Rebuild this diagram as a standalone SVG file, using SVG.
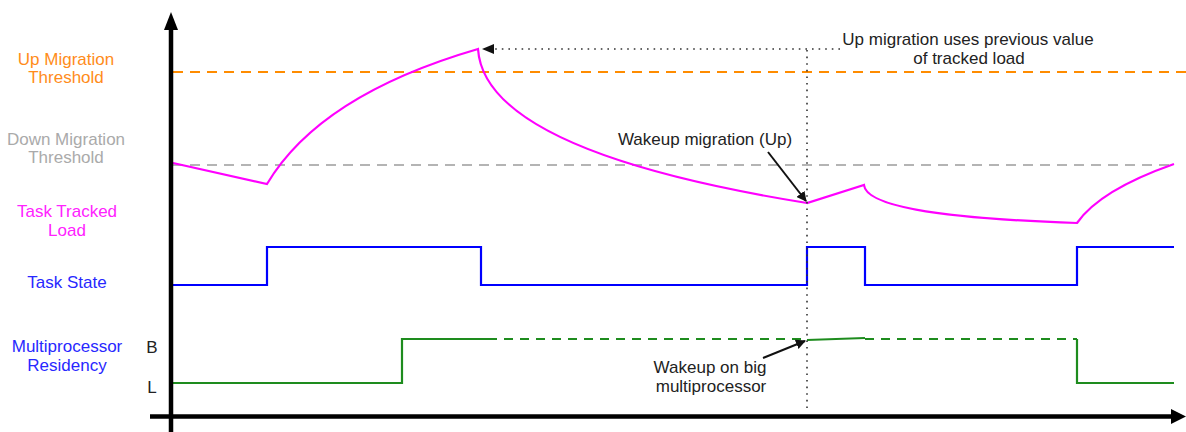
<svg xmlns="http://www.w3.org/2000/svg" width="1186" height="432" viewBox="0 0 1186 432">
<defs>
<style>
text{font-family:"Liberation Sans",Arial,sans-serif;font-size:17px;text-anchor:middle}
.lbl{fill:#222}
.sig{fill:none;stroke-width:2.2;stroke-linejoin:miter}
.mag{stroke:#FF00FF}
.blu{stroke:#0000FF}
.grn{stroke:#1E8C1E}
.dot{fill:none;stroke:#333;stroke-width:1.6;stroke-dasharray:1.6 5}
.ptr{fill:none;stroke:#111;stroke-width:2}
</style>
<marker id="ah" viewBox="0 0 10 10" refX="9" refY="5" markerWidth="10" markerHeight="10" markerUnits="userSpaceOnUse" orient="auto">
<path d="M0,0 L10,5 L0,10 z" fill="#111"/>
</marker>
<marker id="ahs" viewBox="0 0 10 10" refX="9" refY="5" markerWidth="6" markerHeight="6" orient="auto">
<path d="M0,0 L10,5 L0,10 z" fill="#111"/>
</marker>
</defs>
<rect width="1186" height="432" fill="#fff"/>

<g id="thresholds">
<line x1="173" y1="72" x2="1186" y2="72" stroke="#FF8C00" stroke-width="2.2" stroke-dasharray="10 7"/>
<line x1="173" y1="165" x2="1174" y2="165" stroke="#B4B4B4" stroke-width="2.2" stroke-dasharray="10 7"/>
</g>

<g id="labels">
<text x="66" y="65" fill="#FF8C1A">Up Migration</text>
<text x="66" y="83" fill="#FF8C1A">Threshold</text>
<text x="66" y="145" fill="#AAAAAA">Down Migration</text>
<text x="66" y="163" fill="#AAAAAA">Threshold</text>
<text x="67" y="217" fill="#FF22FF">Task Tracked</text>
<text x="67" y="236" fill="#FF22FF">Load</text>
<text x="67" y="288" fill="#2828FF">Task State</text>
<text x="67" y="352" fill="#2828FF">Multiprocessor</text>
<text x="67" y="371" fill="#2828FF">Residency</text>
<text x="152" y="353" class="lbl">B</text>
<text x="152" y="393" class="lbl">L</text>
</g>

<g id="load-curve">
<path class="sig mag" d="M173,163 L267,184 Q320,95 478,49 C482,110 570,165 807,203 L864,185 C866,205 930,218 1077,223 Q1100,190 1174,164"/>
</g>

<g id="task-state">
<path class="sig blu" d="M173,285 H267 V247 H481 V285 H807 V247 H865 V285 H1077 V247 H1174"/>
</g>

<g id="residency">
<path class="sig grn" d="M173,383 H402 V339 H488"/>
<path class="sig grn" d="M488,339 H807" stroke-dasharray="9 7"/>
<path class="sig grn" d="M807,340 L865,338"/>
<path class="sig grn" d="M865,339 H1077" stroke-dasharray="9 7"/>
<path class="sig grn" d="M1077,339 V383 H1174"/>
</g>

<g id="annotations">
<text x="968" y="45" class="lbl">Up migration uses previous value</text>
<text x="969" y="64" class="lbl">of tracked load</text>
<text x="705" y="145" class="lbl">Wakeup migration (Up)</text>
<text x="710" y="373" class="lbl">Wakeup on big</text>
<text x="711" y="392" class="lbl">multiprocessor</text>
</g>

<g id="connectors">
<line class="dot" x1="807" y1="50" x2="807" y2="412"/>
<line class="dot" x1="840" y1="49" x2="494" y2="49"/>
<path d="M482,49 L494,44 L494,54 z" fill="#111"/>
<line class="ptr" x1="768" y1="152" x2="806" y2="201" marker-end="url(#ah)"/>
<line class="ptr" x1="763" y1="358" x2="805" y2="341" marker-end="url(#ah)"/>
</g>

<g id="axes">
<line x1="171" y1="28" x2="171" y2="432" stroke="#000" stroke-width="4.5"/>
<path d="M171,12 L178,30 L164,30 z" fill="#000"/>
<line x1="150" y1="416.5" x2="1172" y2="416.5" stroke="#000" stroke-width="4.5"/>
<path d="M1186,416.5 L1171,409 L1171,424 z" fill="#000"/>
</g>
</svg>
